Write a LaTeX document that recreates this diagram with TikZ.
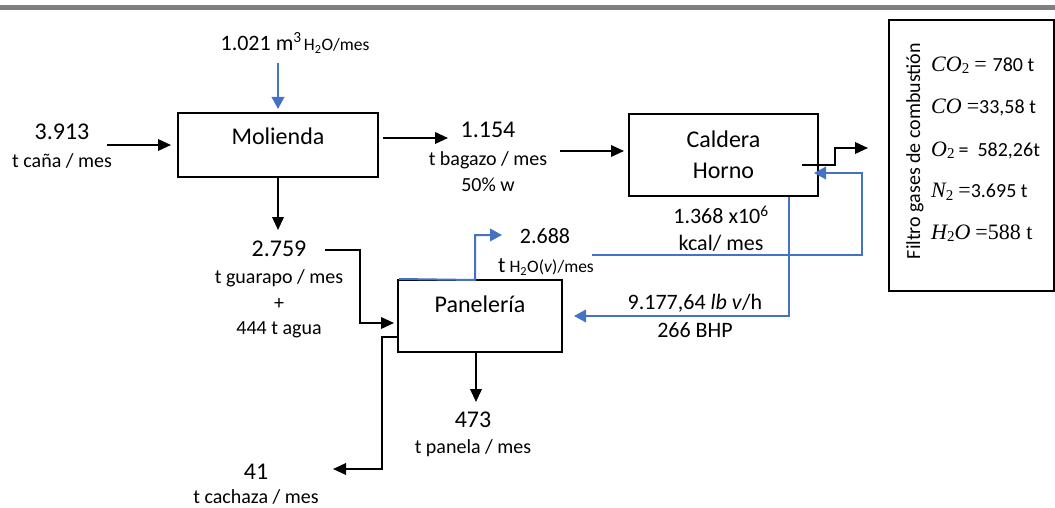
\documentclass[tikz,border=0pt]{standalone}
\usepackage{fontspec}
\setmainfont{Carlito}
\newfontfamily\eqfont{Liberation Serif}
\usetikzlibrary{arrows.meta,calc}
\definecolor{flowblue}{HTML}{4472C4}
\definecolor{rulegray}{HTML}{7F7F7F}
\newcommand\fsA{\fontsize{24}{29}\selectfont}
\newcommand\fsB{\fontsize{22}{26}\selectfont}
\newcommand\fsC{\fontsize{20}{24}\selectfont}
\newcommand\fsD{\fontsize{17.5}{21}\selectfont}
% italic chemical symbol with optional subscript, serif like an equation editor
\newcommand\chem[2]{{\eqfont\fontsize{22}{26}\selectfont\itshape #1\raisebox{-0.25ex}{\fontsize{15}{18}\selectfont\upshape #2}}}
\newcommand\eqs{{\eqfont\fontsize{22}{26}\selectfont =}}

\begin{document}
\begin{tikzpicture}[x=1pt,y=-1pt,
  procbox/.style={draw, line width=2pt, inner sep=0pt},
  flow/.style={line width=2pt, -{Triangle[length=13pt,width=11.5pt]}},
  blueflow/.style={flow, draw=flowblue, -{Triangle[length=12pt,width=12.5pt]}, color=flowblue},
  val/.style={font=\fsA, inner sep=0pt},
  mid/.style={font=\fsB, inner sep=0pt},
  unit/.style={font=\fsC, inner sep=0pt},
  eqn/.style={font=\fsC, inner sep=0pt, anchor=west}]

\useasboundingbox (0,0) rectangle (1055,508);
% header rule
\fill[rulegray] (0,5) rectangle (1055,10.5);

% process units
\node[procbox, minimum width=200pt, minimum height=64pt,
      label={[val,anchor=center,yshift=-24pt]north:Molienda}] (mol) at (278,145) {};
\node[procbox, minimum width=189pt, minimum height=82pt, font=\fsA, align=center]
      (cal) at (723.5,155) {Caldera\\[2pt]Horno};
\node[procbox, minimum width=164pt, minimum height=72pt,
      label={[val,anchor=center,yshift=-25pt]north:Panelería}] (pan) at (480,316) {};
\node[procbox, minimum width=164.5pt, minimum height=271pt] (fil) at (971.25,155.5) {};

% stream labels
\node[val] (cane) at (62,132) {3.913};
\node[unit] (caneu) at (62,161) {t caña / mes};
\node[inner sep=0pt] (water) at (295,43) {{\fsB 1.021 m\textsuperscript{3}} {\fsD H\textsubscript{2}O/mes}};
\node[val] (bag) at (488,130) {1.154};
\node[unit] (bagu) at (488,160) {t bagazo / mes};
\node[unit] (bagw) at (488,185) {50\% w};
\node[mid] (heat) at (721,215) {1.368 x10\textsuperscript{6}};
\node[mid] (heatu) at (721,243) {kcal/ mes};
\node[mid] (steam) at (695,303) {9.177,64 \textit{lb} \textit{v}/h};
\node[mid] (steamu) at (695,330) {266 BHP};
\node[val] (jui) at (279,249) {2.759};
\node[unit] (juiu) at (279,278) {t guarapo / mes};
\node[unit] (plus) at (279,304) {+};
\node[unit] (wat) at (279,330) {444 t agua};
\node[mid] (vap) at (545,236) {2.688};
\node[inner sep=0pt] (vapu) at (546,267) {{\fsB t}\hspace{4pt}{\fsD H\textsubscript{2}O(\textit{v})/mes}};
\node[val] (cach) at (256,472) {41};
\node[unit] (cachu) at (256,497) {t cachaza / mes};
\node[val] (pnl) at (473,420) {473};
\node[unit] (pnlu) at (473,448) {t panela / mes};

% flue gas filter contents
\node[unit, rotate=90] (filtxt) at (915,151) {Filtro gases de combustión};
\node[eqn] (e1) at (931,65)  {\chem{CO}{2}\hspace{5pt}\eqs\hspace{6pt}780 t};
\node[eqn] (e2) at (931,107) {\chem{CO}{}\hspace{5pt}\eqs33,58 t};
\node[eqn] (e3) at (931,150) {\chem{O}{2}\hspace{4pt}=\hspace{9pt}582,26t};
\node[eqn] (e4) at (931,192) {\chem{N}{2}\hspace{5pt}\eqs3.695 t};
\node[eqn] (e5) at (931,233) {\chem{H}{2}{\eqfont\fontsize{22}{26}\selectfont\itshape O}\hspace{5pt}{\eqfont\fontsize{22}{26}\selectfont =588 t}};

% free ends of the streams
\coordinate (caneR) at (107,145);
\coordinate (waterS) at (278,63);
\coordinate (molOut) at (383,138);
\coordinate (bagL) at (448,138);
\coordinate (bagR) at (560,151);
\coordinate (exA) at (802,165);
\coordinate (exEnd) at (868,148);
\coordinate (retA) at (592,255);
\coordinate (retEnd) at (814,173);
\coordinate (stemX) at (789,316);
\coordinate (juiTop) at (278,230);
\coordinate (juiR) at (325,250);
\coordinate (juiIn) at (394,323);
\coordinate (vapEnd) at (502,235);
\coordinate (cachBend) at (382,337);
\coordinate (cachEnd) at (333,469);
\coordinate (pnlX) at (476,402);

% black streams
\draw[flow] (caneR) -- ($(mol.west |- caneR)+(-6,0)$);
\draw[flow] (molOut) -- (bagL);
\draw[flow] (bagR) -- ($(cal.west |- bagR)+(-4,0)$);
\draw[flow] (exA) -- (835,165) |- (exEnd);
\draw[flow] (mol.south) -- (juiTop);
\draw[flow] (juiR) -- (360,250) |- (juiIn);
\draw[flow] (pan.west |- cachBend) -- (cachBend) |- (cachEnd);
\draw[flow] (pan.south -| pnlX) -- (pnlX);

% water and steam streams
\draw[blueflow] (waterS) -- ($(mol.north)+(0,-3)$);
\draw[blueflow] (retA) -- (862,255) |- (retEnd);
\draw[blueflow] (cal.south -| stemX) |- ($(pan.east |- stemX)+(11,0)$);
\draw[blueflow] ($(pan.north west)+(2,0)$) -- (475,280) |- (vapEnd);
\end{tikzpicture}
\end{document}
